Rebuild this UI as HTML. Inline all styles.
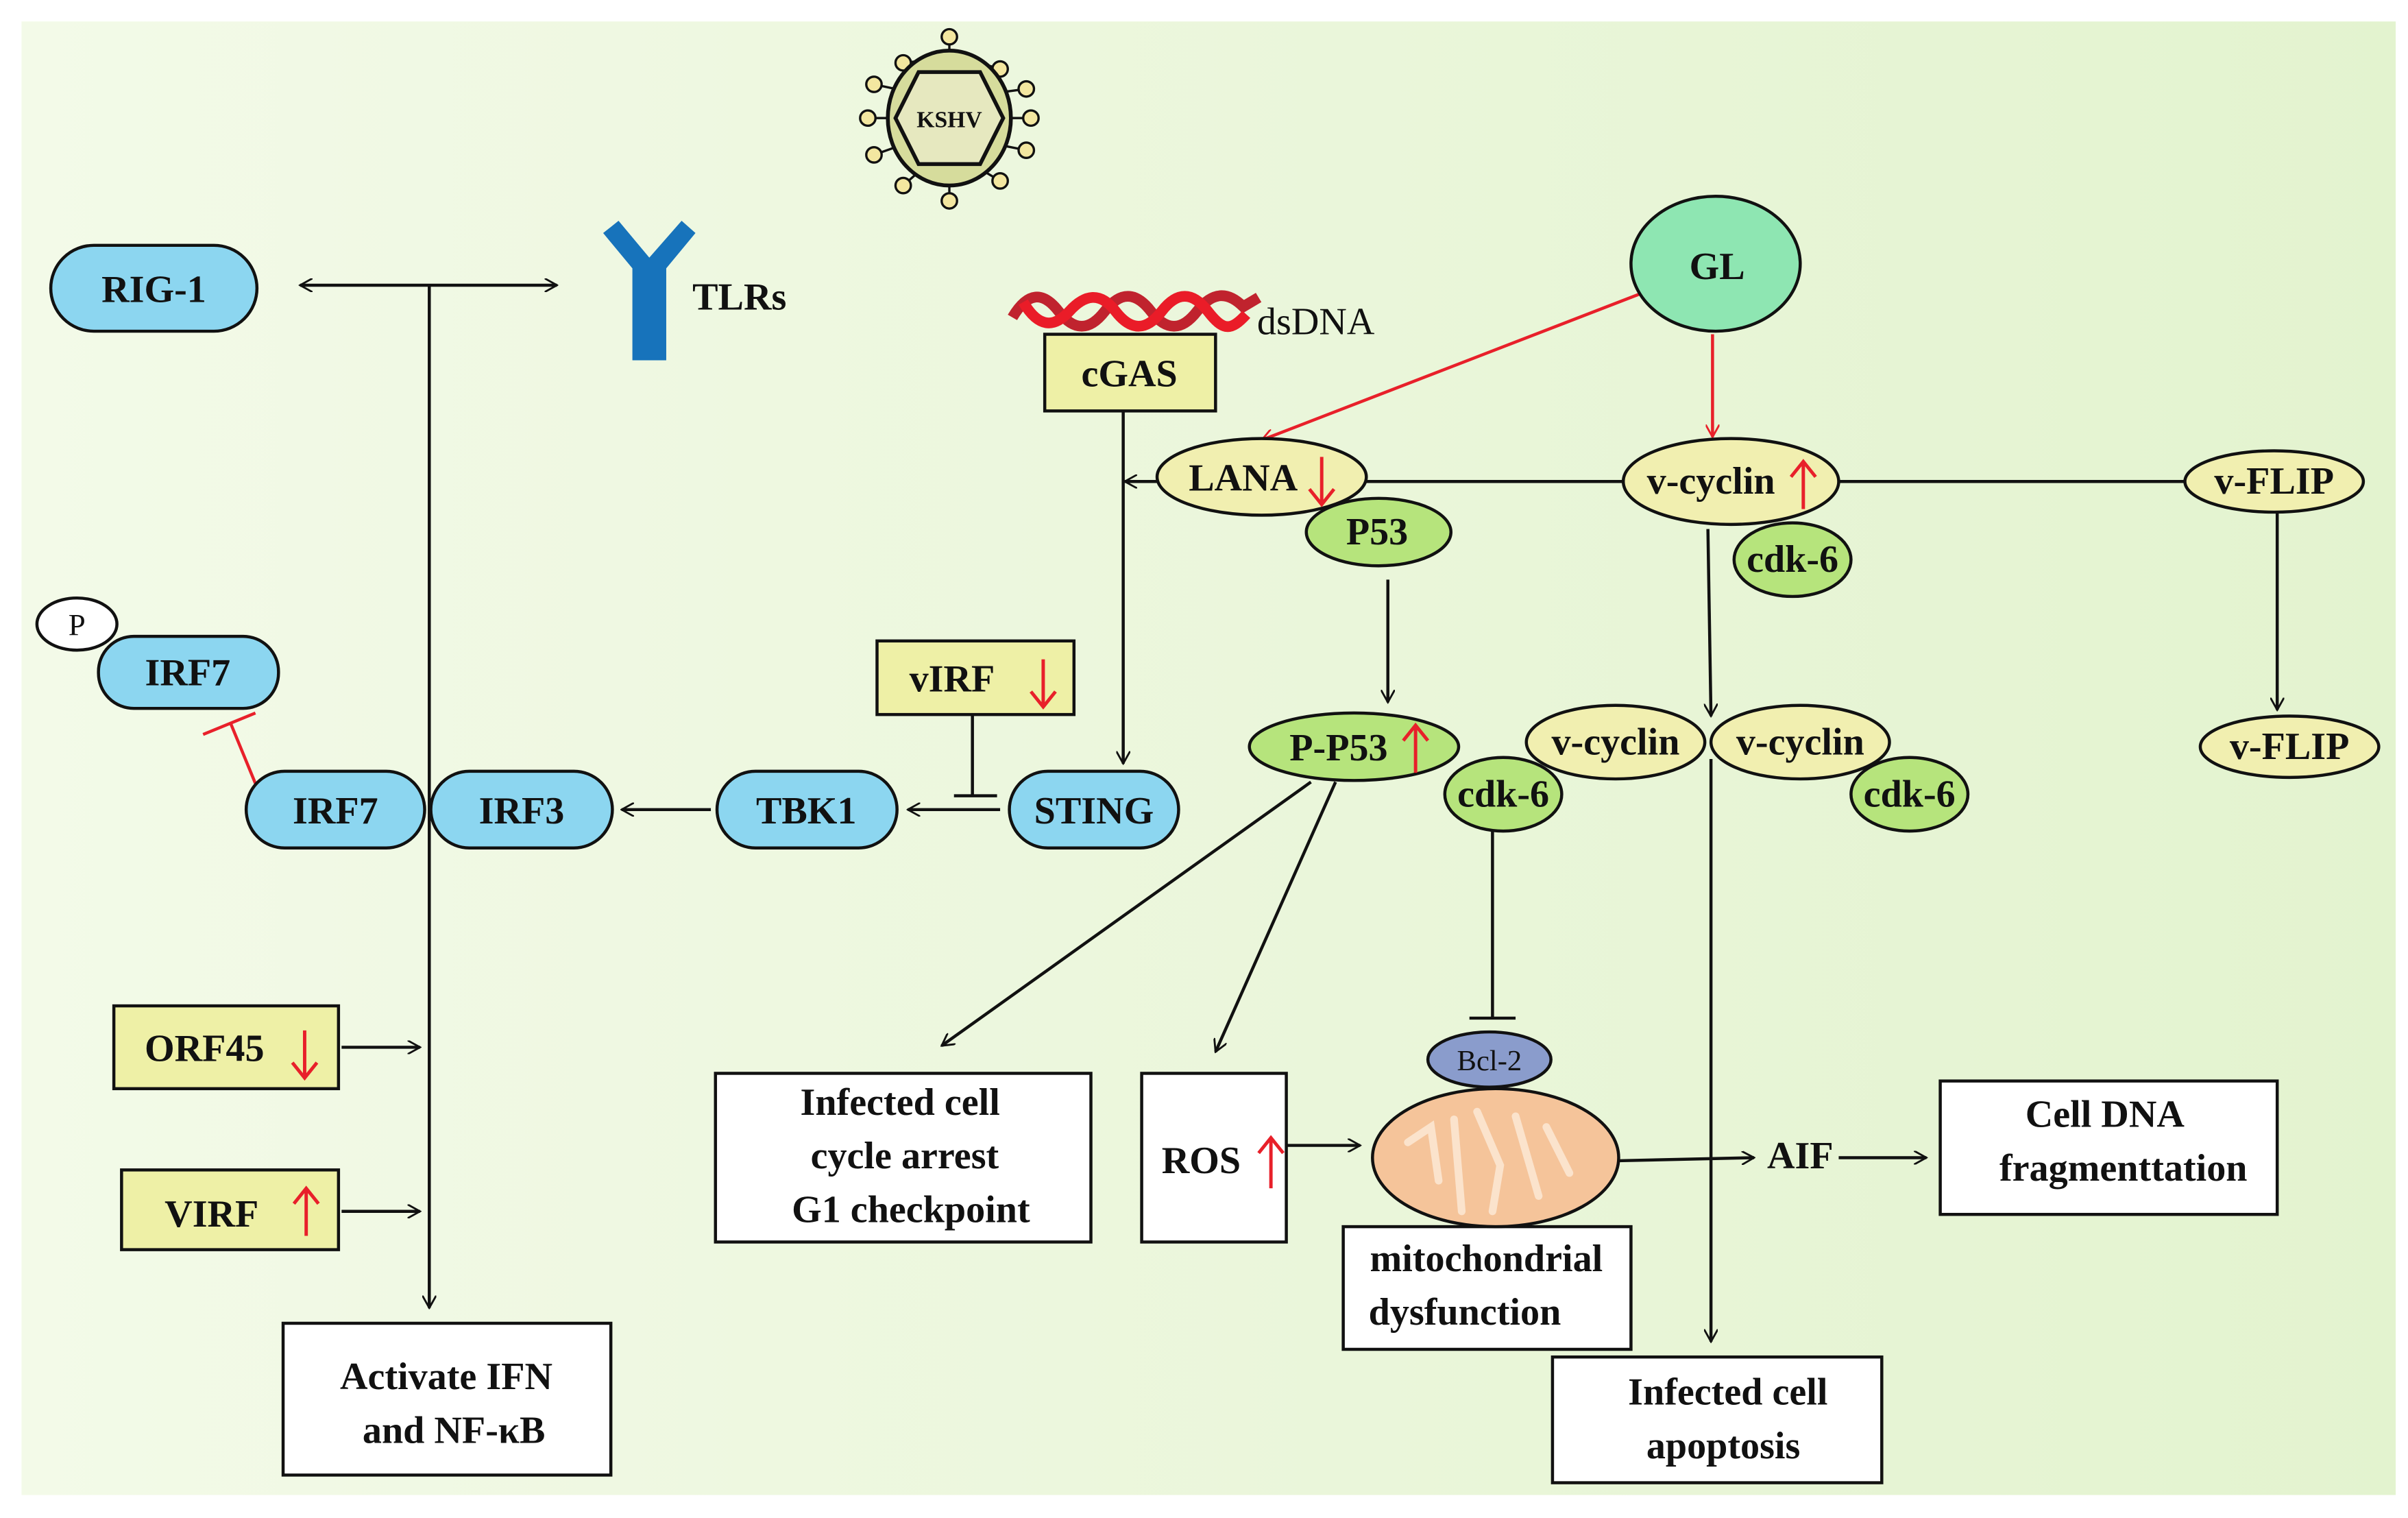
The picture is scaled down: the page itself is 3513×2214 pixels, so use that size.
<!DOCTYPE html>
<html><head><meta charset="utf-8"><style>
html,body{margin:0;padding:0;background:#fff}
svg{display:block}
text{font-family:"Liberation Serif",serif;font-weight:bold;font-size:25px;fill:#111}
</style></head><body>
<svg width="3513" height="2214" viewBox="0 0 1565 990" preserveAspectRatio="none" xmlns="http://www.w3.org/2000/svg">
<defs>
<linearGradient id="bg" x1="0" x2="1" y1="0" y2="0"><stop offset="0" stop-color="#f3fae8"/><stop offset="1" stop-color="#e3f3cf"/></linearGradient>
<marker id="a" viewBox="0 0 10 10" refX="9" refY="5" markerWidth="9" markerHeight="9" orient="auto-start-reverse" markerUnits="userSpaceOnUse"><path d="M0,0 L9,5 L0,10" fill="none" stroke="#111" stroke-width="1.4"/></marker>
<marker id="ar" viewBox="0 0 10 10" refX="9" refY="5" markerWidth="9" markerHeight="9" orient="auto" markerUnits="userSpaceOnUse"><path d="M0,0 L9,5 L0,10" fill="none" stroke="#e8202a" stroke-width="1.4"/></marker>
</defs>
<rect x="14" y="14" width="1543" height="961" fill="url(#bg)"/>
<g stroke="#111" stroke-width="2" fill="none">
<line x1="195" y1="186" x2="362" y2="186" marker-start="url(#a)" marker-end="url(#a)"/>
<line x1="279" y1="186" x2="279" y2="853" marker-end="url(#a)"/>
<line x1="222" y1="683" x2="273" y2="683" marker-end="url(#a)"/>
<line x1="222" y1="790" x2="273" y2="790" marker-end="url(#a)"/>
<line x1="650" y1="528" x2="590" y2="528" marker-end="url(#a)"/>
<line x1="462" y1="528" x2="404" y2="528" marker-end="url(#a)"/>
<line x1="632" y1="466" x2="632" y2="519"/><line x1="620" y1="519" x2="648" y2="519"/>
<line x1="730" y1="268" x2="730" y2="498" marker-end="url(#a)"/>
<line x1="752" y1="314" x2="731" y2="314" marker-end="url(#a)"/>
<line x1="888" y1="314" x2="1055" y2="314"/>
<line x1="1195" y1="314" x2="1420" y2="314"/>
<line x1="902" y1="378" x2="902" y2="458" marker-end="url(#a)"/>
<line x1="1110" y1="345" x2="1112" y2="467" marker-end="url(#a)"/>
<line x1="1480" y1="334" x2="1480" y2="463" marker-end="url(#a)"/>
<line x1="852" y1="510" x2="612" y2="682" marker-end="url(#a)"/>
<line x1="868" y1="510" x2="790" y2="686" marker-end="url(#a)"/>
<line x1="970" y1="542" x2="970" y2="664"/><line x1="955" y1="664" x2="985" y2="664"/>
<line x1="1112" y1="495" x2="1112" y2="875" marker-end="url(#a)"/>
<line x1="836" y1="747" x2="884" y2="747" marker-end="url(#a)"/>
<line x1="1052" y1="757" x2="1140" y2="755" marker-end="url(#a)"/>
<line x1="1195" y1="755" x2="1252" y2="755" marker-end="url(#a)"/>
</g>
<g stroke="#e8202a" stroke-width="2" fill="none">
<line x1="1065" y1="192" x2="820" y2="287" marker-end="url(#ar)"/>
<line x1="1113" y1="218" x2="1113" y2="285" marker-end="url(#ar)"/>
<line x1="166" y1="511" x2="150" y2="472"/><line x1="132" y1="479" x2="166" y2="465"/>
</g>
<path d="M411,175 L411,235 L433,235 L433,175 L452,152 L443,144 L422,168 L402,144 L392,152 Z" fill="#1773bb"/>
<text x="450" y="202">TLRs</text>
<g stroke="#111" stroke-width="1.5">
<line x1="617" y1="33" x2="617" y2="24"/><line x1="617" y1="121" x2="617" y2="131"/>
<line x1="577" y1="77" x2="564" y2="77"/><line x1="657" y1="77" x2="670" y2="77"/>
<line x1="596" y1="40" x2="587" y2="41"/><line x1="640" y1="42" x2="650" y2="45"/>
<line x1="582" y1="58" x2="568" y2="55"/><line x1="652" y1="60" x2="667" y2="58"/>
<line x1="582" y1="96" x2="568" y2="101"/><line x1="652" y1="95" x2="667" y2="98"/>
<line x1="596" y1="113" x2="587" y2="121"/><line x1="640" y1="112" x2="650" y2="118"/>
<g fill="#f3e7a0">
<circle cx="617" cy="24" r="5"/><circle cx="617" cy="131" r="5"/>
<circle cx="564" cy="77" r="5"/><circle cx="670" cy="77" r="5"/>
<circle cx="587" cy="41" r="5"/><circle cx="650" cy="45" r="5"/>
<circle cx="568" cy="55" r="5"/><circle cx="667" cy="58" r="5"/>
<circle cx="568" cy="101" r="5"/><circle cx="667" cy="98" r="5"/>
<circle cx="587" cy="121" r="5"/><circle cx="650" cy="118" r="5"/>
</g>
<ellipse cx="617" cy="77" rx="40" ry="44" fill="#d6dc9c" stroke-width="2.5"/>
<polygon points="597,47 637,47 652,77 637,107 597,107 582,77" fill="#e6e8bf" stroke-width="2.5"/>
</g>
<text x="617" y="83" text-anchor="middle" style="font-size:15px">KSHV</text>
<path d="M658,207 C668,190 678,190 688,203 S708,216 718,203 S738,190 748,203 S768,216 778,203 S798,190 808,200 L818,194" stroke="#c0232e" stroke-width="7" fill="none"/>
<path d="M665,197 C675,214 685,214 695,203 S715,190 725,203 S745,216 755,203 S775,190 785,203 S800,216 810,205" stroke="#ea1c28" stroke-width="7" fill="none"/>
<text x="817" y="218" style="font-weight:normal">dsDNA</text>
<g stroke="#111" stroke-width="2">
<rect x="679" y="218" width="111" height="50" fill="#eef0a6"/>
<rect x="570" y="418" width="128" height="48" fill="#eef0a6"/>
<rect x="74" y="656" width="146" height="54" fill="#eef0a6"/>
<rect x="79" y="763" width="141" height="52" fill="#eef0a6"/>
<rect x="184" y="863" width="213" height="99" fill="#fff"/>
<rect x="465" y="700" width="244" height="110" fill="#fff"/>
<rect x="742" y="700" width="94" height="110" fill="#fff"/>
<rect x="873" y="800" width="187" height="80" fill="#fff"/>
<rect x="1261" y="705" width="219" height="87" fill="#fff"/>
<rect x="1009" y="885" width="214" height="82" fill="#fff"/>
</g>
<g stroke="#111" stroke-width="2" fill="#8cd6f0">
<rect x="33" y="160" width="134" height="56" rx="28"/>
<rect x="64" y="415" width="117" height="47" rx="23"/>
<rect x="160" y="503" width="116" height="50" rx="25"/>
<rect x="280" y="503" width="118" height="50" rx="25"/>
<rect x="466" y="503" width="117" height="50" rx="25"/>
<rect x="656" y="503" width="110" height="50" rx="25"/>
<ellipse cx="50" cy="407" rx="26" ry="17" fill="#fff"/>
</g>
<g stroke="#111" stroke-width="2">
<ellipse cx="1115" cy="172" rx="55" ry="44" fill="#8ee6b2"/>
<ellipse cx="820" cy="311" rx="68" ry="25" fill="#f1efb0"/>
<ellipse cx="896" cy="347" rx="47" ry="22" fill="#b6e47c"/>
<ellipse cx="1125" cy="314" rx="70" ry="28" fill="#f1efb0"/>
<ellipse cx="1165" cy="365" rx="38" ry="24" fill="#b6e47c"/>
<ellipse cx="1478" cy="314" rx="58" ry="20" fill="#f1efb0"/>
<ellipse cx="1488" cy="487" rx="58" ry="20" fill="#f1efb0"/>
<ellipse cx="880" cy="487" rx="68" ry="22" fill="#b6e47c"/>
<ellipse cx="1050" cy="484" rx="58" ry="24" fill="#f1efb0"/>
<ellipse cx="977" cy="518" rx="38" ry="24" fill="#b6e47c"/>
<ellipse cx="1170" cy="484" rx="58" ry="24" fill="#f1efb0"/>
<ellipse cx="1241" cy="518" rx="38" ry="24" fill="#b6e47c"/>
<ellipse cx="972" cy="755" rx="80" ry="45" fill="#f5c49a"/>
<ellipse cx="968" cy="691" rx="40" ry="18" fill="#8a9ccc"/>
</g>
<g stroke="#fbe3cc" stroke-width="5" fill="none" stroke-linecap="round">
<path d="M915,745 L930,735 L935,770"/><path d="M945,730 L950,790"/><path d="M960,725 L975,760 L970,790"/><path d="M985,728 L1000,780"/><path d="M1005,735 L1020,765"/>
</g>
<g text-anchor="middle">
<text x="100" y="197">RIG-1</text>
<text x="50" y="414" style="font-weight:normal;font-size:20px">P</text>
<text x="122" y="447">IRF7</text>
<text x="218" y="537">IRF7</text>
<text x="339" y="537">IRF3</text>
<text x="524" y="537">TBK1</text>
<text x="711" y="537">STING</text>
<text x="734" y="252">cGAS</text>
<text x="1116" y="182">GL</text>
<text x="808" y="320">LANA</text>
<text x="895" y="355">P53</text>
<text x="1112" y="322">v-cyclin</text>
<text x="1165" y="373">cdk-6</text>
<text x="1478" y="322">v-FLIP</text>
<text x="1488" y="495">v-FLIP</text>
<text x="870" y="496">P-P53</text>
<text x="1050" y="492">v-cyclin</text>
<text x="977" y="526">cdk-6</text>
<text x="1170" y="492">v-cyclin</text>
<text x="1241" y="526">cdk-6</text>
<text x="968" y="698" style="font-weight:normal;font-size:19px">Bcl-2</text>
<text x="1170" y="762">AIF</text>
<text x="290" y="906">Activate IFN</text>
<text x="295" y="941">and NF-κB</text>
<text x="585" y="727">Infected cell</text>
<text x="588" y="762">cycle arrest</text>
<text x="592" y="797">G1 checkpoint</text>
<text x="966" y="829">mitochondrial</text>
<text x="952" y="864">dysfunction</text>
<text x="1368" y="735">Cell DNA</text>
<text x="1380" y="770">fragmenttation</text>
<text x="1123" y="916">Infected cell</text>
<text x="1120" y="951">apoptosis</text>
</g>
<text x="591" y="451">vIRF</text>
<text x="94" y="692">ORF45</text>
<text x="107" y="800">VIRF</text>
<text x="755" y="765">ROS</text>
<g stroke="#e8202a" stroke-width="2.2" fill="none">
<path d="M859,298 V328 M851,319 L859,329 L867,319"/>
<path d="M1172,332 V302 M1164,311 L1172,301 L1180,311"/>
<path d="M920,504 V474 M912,483 L920,473 L928,483"/>
<path d="M678,430 V460 M670,451 L678,461 L686,451"/>
<path d="M198,672 V702 M190,693 L198,703 L206,693"/>
<path d="M199,806 V776 M191,785 L199,775 L207,785"/>
<path d="M826,775 V743 M818,752 L826,742 L834,752"/>
</g>
</svg>
</body></html>
